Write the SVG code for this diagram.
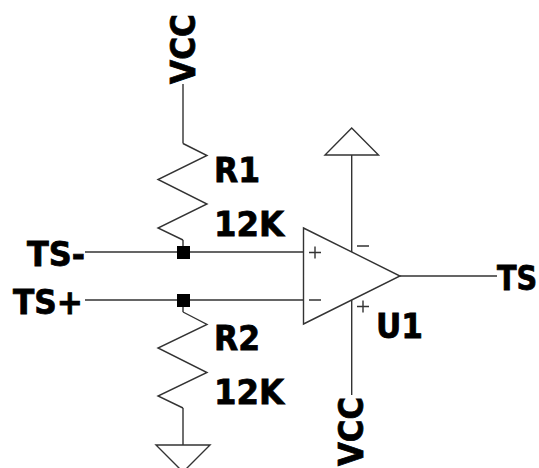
<svg xmlns="http://www.w3.org/2000/svg" width="539" height="468" viewBox="0 0 539 468">
<style>
.w{fill:none;stroke:#333;stroke-width:1.4}
.t{font-family:"DejaVu Sans",sans-serif;font-weight:700;font-size:33px;fill:#000;stroke:#000;stroke-width:.8}
.d{fill:#000}
</style>
<rect width="539" height="468" fill="#fff"/>
<g id="connectors">
<path class="w" d="M183 84V143.500M183 240V252M85 252H303.500M85 300H303.500M183 300V312M183 408V445M351.700 155V252M351.700 300V395M400 276H497"/>
</g>
<g id="R1"><path class="w" d="M183 143.500L207 155.500L158 179.500L207 204L158 228L183 240"/><text class="t" x="214" y="182" textLength="46" lengthAdjust="spacingAndGlyphs">R1</text><text class="t" x="214" y="236" textLength="70" lengthAdjust="spacingAndGlyphs">12K</text></g>
<g id="R2"><path class="w" d="M183 312L207 324.500L158 348L207 372.500L158 396L183 408"/><text class="t" x="214" y="350" textLength="46" lengthAdjust="spacingAndGlyphs">R2</text><text class="t" x="214" y="404" textLength="70" lengthAdjust="spacingAndGlyphs">12K</text></g>
<g id="U1"><path class="w" d="M303.500 228V324L400 276Z"/><path class="w" d="M309 252.500H321M315 246.500V258.500M309 300H321M357 246H369M357 306.500H369M363 300.500V312.500"/><text class="t" x="376" y="338" textLength="47" lengthAdjust="spacingAndGlyphs">U1</text></g>
<g id="J1"><rect class="d" x="177" y="246" width="13" height="13"/></g>
<g id="J2"><rect class="d" x="177" y="294" width="13" height="13"/></g>
<g id="GND1"><path class="w" d="M156 445H210L183 472Z"/></g>
<g id="GND2"><path class="w" d="M325 155H378.500L351.700 128Z"/></g>
<g id="VCC1"><text class="t" transform="translate(195 84) rotate(-90)" textLength="70" lengthAdjust="spacingAndGlyphs">VCC</text></g>
<g id="VCC2"><text class="t" transform="translate(363 466) rotate(-90)" textLength="69" lengthAdjust="spacingAndGlyphs">VCC</text></g>
<g id="TSm"><text class="t" x="27" y="266" textLength="58" lengthAdjust="spacingAndGlyphs">TS-</text></g>
<g id="TSp"><text class="t" x="13" y="314" textLength="70" lengthAdjust="spacingAndGlyphs">TS+</text></g>
<g id="TS"><text class="t" transform="translate(497 290) scale(.87 1)">TS</text></g>
</svg>
